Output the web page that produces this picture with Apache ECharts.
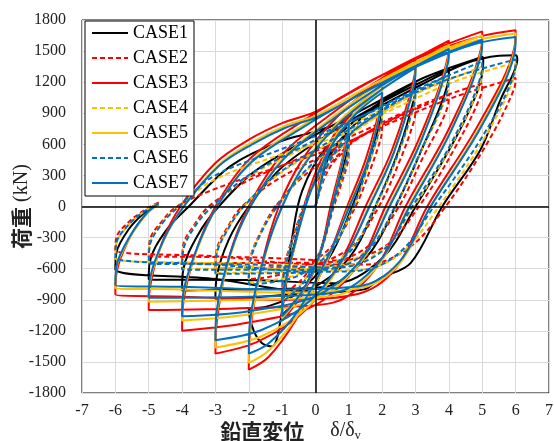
<!DOCTYPE html>
<html>
<head>
<meta charset="utf-8">
<script src="https://cdn.jsdelivr.net/npm/echarts@6/dist/echarts.min.js"></script>
<style>
  html, body { margin: 0; padding: 0; background: #fff; }
  #chart { width: 554px; height: 441px; }
</style>
</head>
<body>
<div id="chart"></div>
<script>
// 荷重-変位 履歴曲線 (CASE1-7)
const caseNames = ['CASE1', 'CASE2', 'CASE3', 'CASE4', 'CASE5', 'CASE6', 'CASE7']
const xTicks = [-7, 7, 1]
const yTicks = [-1800, 1800, 300]

// [δ/δy, kN] 読み取り値
const case1 = [
  [0,0],[0.3,400],[0.65,600],[1,700],
  [0.97,560],[0.5,0],[0.1,-480],[-0.4,-820],[-1,-1050],
  [-0.97,-850],[-0.6,-320],[-0.2,120],[0.4,500],[1.2,800],[2,1000],
  [1.96,850],[1.5,350],[1.1,0],[0.4,-500],[-0.6,-850],[-1.5,-970],[-2,-1000],
  [-1.85,-1200],[-1.6,-1320],[-1.3,-1350],[-1.0,-1000],[-0.7,-300],[-0.4,150],[0.3,560],[1.6,930],[3,1200],
  [2.96,1050],[2.5,550],[1.8,0],[1.0,-500],[-0.2,-800],[-1.6,-870],[-3,-890],
  [-2.97,-700],[-2.6,-320],[-2.0,0],[-1,380],[0.5,720],[2.2,1040],[4,1330],
  [3.96,1180],[3.2,560],[2.4,0],[1.5,-500],[0.2,-780],[-2,-800],[-4,-810],
  [-3.97,-620],[-3.5,-260],[-2.9,0],[-1.9,320],[-0.4,620],[1.5,950],[3.3,1250],[4.85,1430],[5,1445],
  [5.03,1400],[4.5,850],[3.0,0],[2.0,-500],[0.6,-740],[-2,-710],[-5,-705],
  [-4.97,-540],[-4.5,-240],[-3.8,0],[-2.55,390],[-1.05,628],[0,725],[1.5,900],[3.2,1180],[4.5,1380],[5.5,1455],[6,1460],
  [6.05,1420],[5.95,1300],[5.55,1034],[4.95,551],[3.8,0],[2.85,-547],[1.95,-692],[1.45,-800],[0.05,-830],[-3,-700],[-6,-605],
  [-5.97,-450],[-5.6,-220],[-5.1,-50],[-4.75,20]
]
const case2 = [
  [0,0],[0.3,300],[0.65,470],[1,550],
  [0.97,430],[0.55,0],[0.15,-420],[-0.4,-700],[-1,-850],
  [-0.97,-650],[-0.6,-220],[-0.15,150],[0.45,420],[1.2,640],[2,780],
  [1.96,660],[1.6,320],[1.2,0],[0.5,-380],[-0.5,-600],[-1.4,-680],[-2,-700],
  [-1.97,-520],[-1.6,-220],[-1.2,0],[-0.4,280],[0.6,520],[1.8,760],[3,950],
  [2.96,830],[2.5,420],[1.9,0],[1.1,-380],[-0.1,-560],[-1.6,-590],[-3,-600],
  [-2.97,-430],[-2.6,-180],[-2.2,0],[-1.2,250],[0.4,520],[2.2,820],[4,1080],
  [3.96,960],[3.2,460],[2.5,0],[1.6,-380],[0.3,-540],[-2,-545],[-4,-550],
  [-3.97,-380],[-3.6,-160],[-3.2,0],[-2.2,220],[-0.6,450],[1.5,740],[3.3,1000],[5,1190],
  [4.96,1080],[4.1,520],[3.1,0],[2.1,-380],[0.7,-520],[-2,-490],[-5,-480],
  [-4.97,-330],[-4.6,-140],[-4.15,0],[-3.05,165],[-1.05,390],[0.5,560],[2.2,800],[4.2,1060],[6,1240],
  [5.96,1140],[5.2,640],[3.9,0],[2.8,-400],[1.5,-560],[0,-560],[-3,-480],[-6,-420],
  [-5.97,-300],[-5.6,-150],[-5.1,-30],[-4.7,40]
]
const case3 = [
  [0,0],[0.25,450],[0.6,720],[1,850],
  [0.97,700],[0.45,0],[0.1,-500],[-0.4,-850],[-1,-1100],
  [-0.97,-900],[-0.6,-350],[-0.2,150],[0.4,600],[1.2,950],[2,1180],
  [1.96,1000],[1.5,450],[0.95,0],[0.3,-550],[-0.6,-1100],[-1.4,-1450],[-2,-1575],
  [-1.97,-1250],[-1.6,-550],[-1.1,0],[-0.4,450],[0.6,850],[1.8,1180],[3,1420],
  [2.96,1250],[2.3,550],[1.5,0],[0.8,-500],[-0.3,-1000],[-1.7,-1300],[-3,-1420],
  [-2.97,-1150],[-2.6,-500],[-2,0],[-1,500],[0.5,900],[2.2,1280],[4,1600],
  [3.96,1430],[3.1,650],[2.1,0],[1.3,-550],[0,-950],[-2,-1120],[-4,-1200],
  [-3.97,-950],[-3.6,-450],[-3,0],[-2,450],[-0.5,800],[1.5,1180],[3.3,1480],[5,1690],
  [4.96,1520],[4,750],[2.7,0],[1.8,-600],[0.5,-930],[-2,-980],[-5,-1000],
  [-4.97,-800],[-4.6,-350],[-4.05,0],[-3,420],[-2,645],[-1,805],[0,915],[1.4,1170],[3.2,1450],[4.8,1630],[6,1700],
  [5.96,1530],[4.9,800],[3.35,0],[2.4,-600],[1.2,-850],[-1,-900],[-4,-870],[-6,-850],
  [-5.97,-650],[-5.6,-320],[-5.1,-80],[-4.7,20]
]
const case4 = [
  [0,0],[0.3,340],[0.65,530],[1,620],
  [0.97,490],[0.52,0],[0.13,-450],[-0.4,-740],[-1,-900],
  [-0.97,-690],[-0.6,-240],[-0.15,150],[0.45,470],[1.2,730],[2,900],
  [1.96,770],[1.55,360],[1.15,0],[0.45,-420],[-0.5,-650],[-1.4,-715],[-2,-730],
  [-1.97,-540],[-1.6,-230],[-1.15,0],[-0.35,320],[0.65,600],[1.85,870],[3,1100],
  [2.96,970],[2.45,480],[1.8,0],[1.05,-420],[-0.1,-620],[-1.6,-635],[-3,-640],
  [-2.97,-460],[-2.6,-200],[-2.15,0],[-1.15,300],[0.45,620],[2.2,950],[4,1250],
  [3.96,1110],[3.15,520],[2.4,0],[1.55,-420],[0.25,-600],[-2,-600],[-4,-600],
  [-3.97,-420],[-3.6,-180],[-3.1,0],[-2.1,270],[-0.5,540],[1.5,860],[3.3,1130],[5,1350],
  [4.96,1220],[4.05,580],[2.95,0],[2.0,-420],[0.65,-580],[-2,-550],[-5,-540],
  [-4.97,-370],[-4.6,-160],[-4.1,0],[-3.05,255],[-1.05,500],[0.5,660],[2.2,920],[4.2,1210],[6,1390],
  [5.96,1260],[5.1,680],[3.7,0],[2.6,-440],[1.4,-610],[0,-620],[-3,-550],[-6,-500],
  [-5.97,-360],[-5.6,-180],[-5.1,-40],[-4.7,30]
]
const case5 = [
  [0,0],[0.28,430],[0.62,690],[1,820],
  [0.97,680],[0.5,0],[0.12,-480],[-0.4,-830],[-1,-1080],
  [-0.97,-880],[-0.58,-330],[-0.15,150],[0.45,580],[1.2,910],[2,1130],
  [1.96,960],[1.55,430],[1.0,0],[0.35,-520],[-0.55,-1060],[-1.4,-1390],[-2,-1510],
  [-1.97,-1200],[-1.55,-520],[-1.0,0],[-0.3,430],[0.7,820],[1.9,1140],[3,1370],
  [2.96,1200],[2.35,530],[1.6,0],[0.9,-480],[-0.2,-960],[-1.6,-1250],[-3,-1360],
  [-2.97,-1080],[-2.55,-470],[-1.95,0],[-0.95,470],[0.55,870],[2.2,1240],[4,1560],
  [3.96,1400],[3.15,630],[2.2,0],[1.4,-520],[0.1,-880],[-2,-1040],[-4,-1100],
  [-3.97,-880],[-3.55,-420],[-2.95,0],[-1.95,430],[-0.45,770],[1.5,1140],[3.3,1440],[5,1650],
  [4.96,1490],[4.05,730],[2.8,0],[1.9,-560],[0.6,-860],[-2,-900],[-5,-920],
  [-4.97,-740],[-4.55,-330],[-3.95,0],[-2.9,400],[-1.9,620],[-0.9,780],[0.1,890],[1.5,1140],[3.3,1420],[4.8,1600],[6,1670],
  [5.96,1500],[4.95,780],[3.45,0],[2.5,-560],[1.3,-790],[-1,-830],[-4,-800],[-6,-790],
  [-5.97,-600],[-5.55,-290],[-5.05,-70],[-4.7,25]
]
const case6 = [
  [0,0],[0.3,350],[0.65,545],[1,640],
  [0.97,505],[0.52,0],[0.13,-460],[-0.4,-750],[-1,-920],
  [-0.97,-700],[-0.6,-245],[-0.15,155],[0.45,480],[1.2,745],[2,920],
  [1.96,790],[1.55,370],[1.13,0],[0.45,-430],[-0.5,-665],[-1.4,-735],[-2,-750],
  [-1.97,-555],[-1.6,-235],[-1.15,0],[-0.35,330],[0.65,615],[1.85,890],[3,1120],
  [2.96,990],[2.45,490],[1.78,0],[1.05,-430],[-0.1,-630],[-1.6,-645],[-3,-650],
  [-2.97,-470],[-2.6,-205],[-2.15,0],[-1.15,310],[0.45,635],[2.2,970],[4,1270],
  [3.96,1130],[3.15,530],[2.38,0],[1.55,-430],[0.25,-610],[-2,-610],[-4,-610],
  [-3.97,-430],[-3.6,-185],[-3.1,0],[-2.1,280],[-0.5,560],[1.5,890],[3.3,1170],[5,1400],
  [4.96,1265],[4.05,600],[2.9,0],[2.0,-430],[0.65,-590],[-2,-560],[-5,-550],
  [-4.97,-380],[-4.6,-165],[-4.1,0],[-3.05,293],[-1.05,550],[0,680],[1.8,930],[4,1230],[6,1420],
  [5.96,1290],[5.05,700],[3.55,0],[2.5,-450],[1.3,-620],[0,-630],[-3,-560],[-6,-490],
  [-5.97,-350],[-5.6,-175],[-5.1,-40],[-4.7,30]
]
const case7 = [
  [-1.25,0],[-0.1,0],[0,10],[0.3,430],[0.65,680],[1,800],
  [0.97,660],[0.5,0],[0.12,-470],[-0.4,-820],[-1,-1060],
  [-0.97,-860],[-0.58,-320],[-0.15,140],[0.45,570],[1.2,890],[2,1100],
  [1.96,940],[1.55,420],[1.02,0],[0.35,-500],[-0.55,-1020],[-1.4,-1320],[-2,-1420],
  [-1.97,-1130],[-1.55,-500],[-1.0,0],[-0.3,420],[0.7,800],[1.9,1110],[3,1340],
  [2.96,1180],[2.35,520],[1.62,0],[0.9,-470],[-0.2,-920],[-1.6,-1190],[-3,-1290],
  [-2.97,-1030],[-2.55,-450],[-1.95,0],[-0.95,460],[0.55,850],[2.2,1210],[4,1520],
  [3.96,1370],[3.15,620],[2.22,0],[1.4,-500],[0.1,-850],[-2,-1010],[-4,-1060],
  [-3.97,-850],[-3.55,-400],[-2.95,0],[-1.95,420],[-0.45,750],[1.5,1110],[3.3,1400],[5,1610],
  [4.96,1460],[4.05,720],[2.82,0],[1.9,-540],[0.6,-830],[-2,-870],[-5,-880],
  [-4.97,-710],[-4.55,-320],[-3.95,0],[-2.9,390],[-1.9,600],[-0.9,760],[0.1,870],[1.5,1110],[3.3,1390],[4.8,1570],[6,1635],
  [5.96,1470],[4.95,760],[3.45,0],[2.5,-540],[1.3,-770],[-1,-800],[-4,-775],[-6,-760],
  [-5.97,-580],[-5.55,-280],[-5.05,-60],[-4.72,25]
]

const caseData = [case1, case2, case3, case4, case5, case6, case7]
const caseColors = ['#000000', '#FF0000', '#FF0000', '#FFC000', '#FFC000', '#0070C0', '#0070C0']
const caseDashed = [false, true, false, true, false, true, false]

const serif = '"Liberation Serif", "Times New Roman", serif'
const cjk = '"Noto Sans CJK JP", sans-serif'

let series = caseNames.map((name, i) => ({
  name: name,
  type: 'line',
  data: caseData[i],
  symbol: 'none',
  smooth: 0.35,
  silent: true,
  lineStyle: {
    color: caseColors[i],
    width: 2,
    type: caseDashed[i] ? [5, 3] : 'solid',
  },
  itemStyle: { color: caseColors[i] },
}))

// 原点を通る軸線 (x=0, y=0)
series.push({
  name: 'zero',
  type: 'line',
  data: [],
  silent: true,
  markLine: {
    silent: true,
    symbol: 'none',
    label: { show: false },
    lineStyle: { color: '#000', width: 1.5, type: 'solid' },
    data: [{ xAxis: 0 }, { yAxis: 0 }],
  },
})

const option = {
  animation: false,
  backgroundColor: '#fff',
  grid: {
    left: 82,
    right: 5,
    top: 20,
    bottom: 48,
    outerBoundsMode: 'none',
    containLabel: false,
    show: true,
    borderColor: '#000',
    borderWidth: 1,
  },
  legend: {
    data: caseNames,
    orient: 'vertical',
    left: 85,
    top: 21,
    itemWidth: 36,
    itemHeight: 14,
    itemGap: 7,
    padding: [3, 6, 4, 6],
    backgroundColor: '#fff',
    borderColor: '#000',
    borderWidth: 1,
    itemStyle: { color: 'rgba(0,0,0,0)', borderWidth: 0 },
    textStyle: { fontFamily: serif, fontSize: 18, color: '#000' },
  },
  xAxis: {
    type: 'value',
    min: xTicks[0],
    max: xTicks[1],
    interval: xTicks[2],
    axisLine: { show: false },
    axisTick: { show: false },
    splitLine: { lineStyle: { color: '#D9D9D9', width: 1 } },
    axisLabel: { fontFamily: serif, fontSize: 16, color: '#222', margin: 10 },
    name: '{a|鉛直変位}{s| }{b|δ/δ}{c|v}',
    nameLocation: 'middle',
    nameGap: 27,
    nameMoveOverlap: false,
    nameTextStyle: {
      padding: [0, 50, 0, 0],
      rich: {
        a: { fontFamily: cjk, fontSize: 21, fontWeight: 'bold', color: '#222' },
        s: { fontSize: 20, width: 26 },
        b: { fontFamily: serif, fontSize: 20, color: '#222' },
        c: { fontFamily: serif, fontSize: 12, color: '#222', padding: [10, 0, 0, 0] },
      },
    },
  },
  yAxis: {
    type: 'value',
    min: yTicks[0],
    max: yTicks[1],
    interval: yTicks[2],
    axisLine: { show: false },
    axisTick: { show: false },
    splitLine: { lineStyle: { color: '#D9D9D9', width: 1 } },
    axisLabel: {
      fontFamily: serif,
      fontSize: 16,
      color: '#222',
      margin: 16,
      formatter: (v) => String(v),
    },
    name: '{a|荷重}{b| (kN)}',
    nameLocation: 'middle',
    nameRotate: 90,
    nameGap: 50,
    nameMoveOverlap: false,
    nameTextStyle: {
      rich: {
        a: { fontFamily: cjk, fontSize: 21, fontWeight: 'bold', color: '#222' },
        b: { fontFamily: serif, fontSize: 20, color: '#222' },
      },
    },
  },
  series: series,
}

let myChart = echarts.init(document.getElementById('chart'))
myChart.setOption(option, true)
</script>
</body>
</html>
